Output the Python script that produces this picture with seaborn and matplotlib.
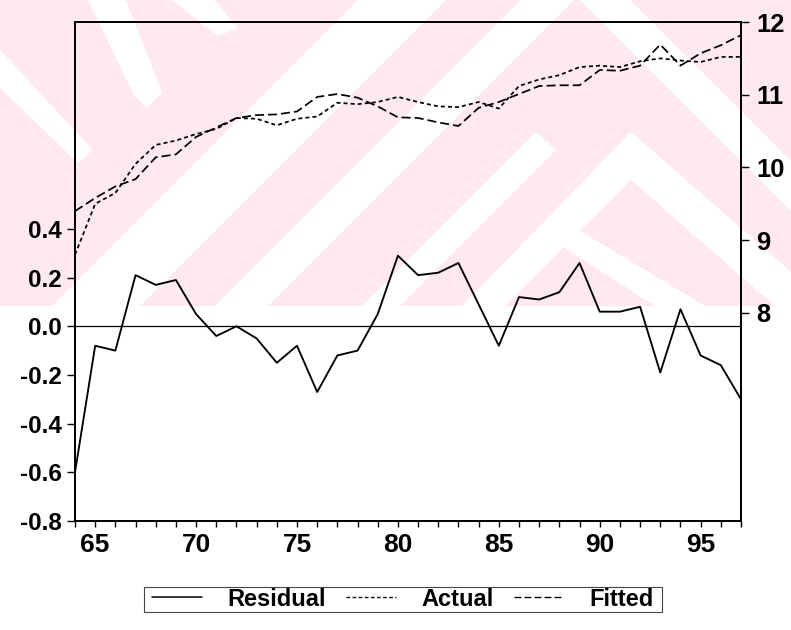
import matplotlib
matplotlib.use("Agg")
import matplotlib.pyplot as plt
import seaborn as sns
import pandas as pd
from matplotlib.patches import Polygon, Rectangle
from matplotlib.lines import Line2D
from matplotlib.ticker import FixedLocator, FixedFormatter

# ---- data -----------------------------------------------------------------
years = list(range(1964, 1998))

residual = [-0.60, -0.08, -0.10, 0.21, 0.17, 0.19, 0.05, -0.04, 0.00, -0.05,
            -0.15, -0.08, -0.27, -0.12, -0.10, 0.05, 0.29, 0.21, 0.22, 0.26,
            0.09, -0.08, 0.12, 0.11, 0.14, 0.26, 0.06, 0.06, 0.08, -0.19,
            0.07, -0.12, -0.16, -0.30]

actual = [8.80, 9.50, 9.65, 10.05, 10.31, 10.37, 10.46, 10.53, 10.68, 10.67,
          10.58, 10.67, 10.70, 10.89, 10.87, 10.90, 10.97, 10.90, 10.84, 10.83,
          10.90, 10.81, 11.12, 11.21, 11.27, 11.38, 11.40, 11.38, 11.46, 11.50,
          11.47, 11.45, 11.52, 11.52]

fitted = [9.40, 9.58, 9.74, 9.84, 10.14, 10.18, 10.42, 10.55, 10.68, 10.72,
          10.73, 10.77, 10.97, 11.01, 10.96, 10.84, 10.69, 10.68, 10.62, 10.57,
          10.82, 10.90, 11.01, 11.12, 11.13, 11.13, 11.34, 11.33, 11.40, 11.69,
          11.40, 11.57, 11.68, 11.82]

left_ticks = [-0.8, -0.6, -0.4, -0.2, 0.0, 0.2, 0.4]
right_ticks = [8, 9, 10, 11, 12]
label_years = [1965, 1970, 1975, 1980, 1985, 1990, 1995]
x_labels = ["65", "70", "75", "80", "85", "90", "95"]
series_names = ["Residual", "Actual", "Fitted"]

df = pd.DataFrame({"year": years, "Residual": residual,
                   "Actual": actual, "Fitted": fitted})

# ---- style ----------------------------------------------------------------
sns.set_theme(style="white")
plt.rcParams["font.family"] = ["Liberation Sans", "DejaVu Sans"]
plt.rcParams["font.weight"] = "bold"
plt.rcParams["text.color"] = "black"
plt.rcParams["axes.unicode_minus"] = False
plt.rcParams["lines.scale_dashes"] = False

W, H = 791, 630
fig = plt.figure(figsize=(W / 100, H / 100), dpi=100, facecolor="white")


def to_fig(pts):
    return [(x / W, 1 - y / H) for x, y in pts]


# faint pink background band with diagonal white strokes
pink = "#fde9ee"
fig.patches.append(Polygon(to_fig([(0, 0), (W, 0), (W, 306), (0, 306)]),
                           closed=True, transform=fig.transFigure,
                           facecolor=pink, edgecolor="none", zorder=-10))
white_shapes = [
    [(88, 0), (126, 0), (162, 92), (147, 108), (134, 95)],
    [(172, 0), (214, 0), (238, 28), (218, 36)],
    [(0, 50), (0, 88), (78, 163), (93, 150)],
    [(52, 306), (140, 306), (446, 0), (358, 0)],
    [(215, 306), (268, 306), (574, 0), (521, 0)],
    [(362, 306), (400, 306), (556, 150), (536, 132)],
    [(462, 306), (505, 306), (631, 180), (791, 320), (791, 272), (631, 132)],
    [(560, 245), (575, 228), (705, 306), (655, 306)],
    [(580, 0), (630, 0), (791, 161), (791, 211)],
]
for shp in white_shapes:
    fig.patches.append(Polygon(to_fig(shp), closed=True,
                               transform=fig.transFigure, facecolor="white",
                               edgecolor="none", zorder=-9))
# white lower edge of the pink band
fig.patches.append(Polygon(to_fig([(0, 306), (W, 306), (W, H), (0, H)]),
                           closed=True, transform=fig.transFigure,
                           facecolor="white", edgecolor="none", zorder=-8))

# ---- axes -----------------------------------------------------------------
L, R, T, B = 75, 741, 22, 521
ax = fig.add_axes([L / W, 1 - B / H, (R - L) / W, (B - T) / H])
ax.patch.set_visible(False)
ax2 = ax.twinx()
ax2.patch.set_visible(False)

short_dash = (0, (2.9, 2.2))
long_dash = (0, (6.5, 2.9))

sns.lineplot(data=df, x="year", y="Residual", ax=ax, color="black", lw=1.35)
ax.axhline(0, color="black", lw=0.9)
sns.lineplot(data=df, x="year", y="Actual", ax=ax2, color="black", lw=1.25,
             linestyle=short_dash)
sns.lineplot(data=df, x="year", y="Fitted", ax=ax2, color="black", lw=1.25,
             linestyle=long_dash)

ax.set_xlim(1964, 1997)
ax.set_ylim(-0.8, 1.25)
ax2.set_ylim(5.14, 12)

ax.set_xlabel("")
ax.set_ylabel("")
ax2.set_ylabel("")

ax.xaxis.set_major_locator(FixedLocator(label_years))
ax.xaxis.set_major_formatter(FixedFormatter(x_labels))
ax.xaxis.set_minor_locator(FixedLocator(years))
ax.set_yticks(left_ticks)
ax.set_yticklabels([f"{v:.1f}" for v in left_ticks])
ax2.set_yticks(right_ticks)
ax2.set_yticklabels([str(v) for v in right_ticks])

ax.tick_params(axis="x", which="both", direction="out", length=4.5,
               width=1.0, color="black", bottom=True, top=False,
               labelsize=19, pad=4, labelcolor="black")
ax.tick_params(axis="y", direction="out", length=6, width=1.0,
               color="black", left=True, right=False, labelsize=17.5,
               pad=3.5, labelcolor="black")
ax2.tick_params(axis="y", direction="out", length=6, width=1.0,
                color="black", right=True, left=False, labelsize=18.4,
                pad=5, labelcolor="black")
for lab in ax.get_xticklabels() + ax.get_yticklabels() + ax2.get_yticklabels():
    lab.set_fontweight("bold")

for a in (ax, ax2):
    for sp in a.spines.values():
        sp.set_visible(True)
        sp.set_color("black")
        sp.set_linewidth(1.3)

# ---- legend ---------------------------------------------------------------
handles = [
    Line2D([], [], color="black", lw=1.1),
    Line2D([], [], color="black", lw=1.0, linestyle=(0, (2.6, 1.8))),
    Line2D([], [], color="black", lw=1.0, linestyle=(0, (5.0, 2.2))),
]
leg = fig.legend(handles, series_names, loc="center",
                 bbox_to_anchor=(403 / W, 1 - 599 / H), ncol=3,
                 frameon=False, fontsize=17, labelcolor="black",
                 prop={"weight": "bold", "size": 17},
                 handlelength=2.1, handletextpad=1.1, columnspacing=0.85,
                 borderpad=0.0, borderaxespad=0)

# thin box around the legend entries
fig.canvas.draw()
bb = leg.get_window_extent()
pad_x, pad_y = 8, 1
fig.patches.append(Rectangle((bb.x0 - pad_x, bb.y0 - pad_y),
                             bb.width + 2 * pad_x, bb.height + 2 * pad_y,
                             transform=None, facecolor="none",
                             edgecolor="#444444", lw=0.8, zorder=5))

fig.savefig("out.png", dpi=100, facecolor="white")
